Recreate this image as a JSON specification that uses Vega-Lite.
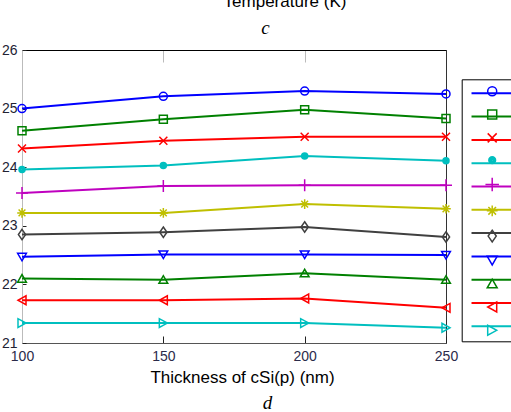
{
  "$schema": "https://vega.github.io/schema/vega-lite/v6.json",
  "width": 424,
  "height": 293,
  "autosize": {"type": "none"},
  "padding": {"left": 22, "top": 50, "right": 65, "bottom": 69},
  "background": "white",
  "title": {"text": "Temperature (K)", "font": "Liberation Sans", "fontSize": 17, "fontWeight": "normal", "color": "#000", "anchor": "middle", "dx": 51, "offset": 8},
  "config": {"view": {"stroke": "#333", "strokeWidth": 1}},
  "data": {"values": [
    {"s": "s01", "t": 100, "v": 25.0}, {"s": "s01", "t": 150, "v": 25.21}, {"s": "s01", "t": 200, "v": 25.30}, {"s": "s01", "t": 250, "v": 25.25},
    {"s": "s02", "t": 100, "v": 24.62}, {"s": "s02", "t": 150, "v": 24.82}, {"s": "s02", "t": 200, "v": 24.98}, {"s": "s02", "t": 250, "v": 24.83},
    {"s": "s03", "t": 100, "v": 24.32}, {"s": "s03", "t": 150, "v": 24.45}, {"s": "s03", "t": 200, "v": 24.52}, {"s": "s03", "t": 250, "v": 24.52},
    {"s": "s04", "t": 100, "v": 23.96}, {"s": "s04", "t": 150, "v": 24.03}, {"s": "s04", "t": 200, "v": 24.19}, {"s": "s04", "t": 250, "v": 24.11},
    {"s": "s05", "t": 100, "v": 23.56}, {"s": "s05", "t": 150, "v": 23.68}, {"s": "s05", "t": 200, "v": 23.69}, {"s": "s05", "t": 250, "v": 23.69},
    {"s": "s06", "t": 100, "v": 23.22}, {"s": "s06", "t": 150, "v": 23.22}, {"s": "s06", "t": 200, "v": 23.37}, {"s": "s06", "t": 250, "v": 23.29},
    {"s": "s07", "t": 100, "v": 22.85}, {"s": "s07", "t": 150, "v": 22.89}, {"s": "s07", "t": 200, "v": 22.98}, {"s": "s07", "t": 250, "v": 22.81},
    {"s": "s08", "t": 100, "v": 22.47}, {"s": "s08", "t": 150, "v": 22.51}, {"s": "s08", "t": 200, "v": 22.51}, {"s": "s08", "t": 250, "v": 22.50},
    {"s": "s09", "t": 100, "v": 22.10}, {"s": "s09", "t": 150, "v": 22.08}, {"s": "s09", "t": 200, "v": 22.19}, {"s": "s09", "t": 250, "v": 22.08},
    {"s": "s10", "t": 100, "v": 21.73}, {"s": "s10", "t": 150, "v": 21.73}, {"s": "s10", "t": 200, "v": 21.76}, {"s": "s10", "t": 250, "v": 21.60},
    {"s": "s11", "t": 100, "v": 21.34}, {"s": "s11", "t": 150, "v": 21.34}, {"s": "s11", "t": 200, "v": 21.34}, {"s": "s11", "t": 250, "v": 21.26}
  ]},
  "resolve": {"scale": {"x": "independent"}},
  "layer": [
    {
      "encoding": {
        "x": {"field": "t", "type": "quantitative", "scale": {"domain": [100, 250], "nice": false, "zero": false},
          "axis": {"values": [100, 150, 200, 250], "orient": "bottom", "grid": false, "domain": true, "domainColor": "#555", "ticks": true, "tickSize": -7, "tickColor": "#222",
            "labelFont": "Liberation Sans", "labelFontSize": 14, "labelColor": "#2b2b4a", "labelPadding": 13, "labelFlush": false,
            "title": "Thickness of cSi(p) (nm)", "titleFont": "Liberation Sans", "titleFontSize": 17, "titleFontWeight": "normal", "titleColor": "#000", "titlePadding": 6, "titleX": 220}},
        "y": {"field": "v", "type": "quantitative", "scale": {"domain": [21, 26], "nice": false, "zero": false},
          "axis": {"values": [21, 22, 23, 24, 25, 26], "grid": false, "domain": true, "domainColor": "#bbb", "ticks": true, "tickSize": -4, "tickColor": "#222",
            "labelFont": "Liberation Sans", "labelFontSize": 14, "labelColor": "#222233", "labelPadding": 9, "title": null}}
      },
      "layer": [
        {"mark": {"type": "line", "strokeWidth": 2},
          "encoding": {
            "color": {"field": "s", "type": "nominal",
              "scale": {"domain": ["s01","s02","s03","s04","s05","s06","s07","s08","s09","s10","s11","zz"],
                "range": ["#0000ff","#008000","#ff0000","#00bfbf","#bf00bf","#bfbf00","#404040","#0000ff","#008000","#ff0000","#00bfbf","#000000"]},
              "legend": {"orient": "none", "legendX": 439.7, "legendY": 29.3, "title": null, "values": ["s01","s02","s03","s04","s05","s06","s07","s08","s09","s10","s11"],
                "strokeColor": "#000", "padding": 8, "labelExpr": "' '", "labelFontSize": 12, "labelOffset": 10, "symbolSize": 81, "symbolStrokeWidth": 2, "rowPadding": 11.3,
                "symbolType": "M-0.93,0H9.1"}}
          }},
        {"mark": {"type": "point", "filled": false, "size": 64, "strokeWidth": 1.5, "opacity": 1},
          "encoding": {
            "stroke": {"field": "s", "type": "nominal",
              "scale": {"domain": ["s01","s02","s03","s04","s05","s06","s07","s08","s09","s10","s11"],
                "range": ["#0000ff","#008000","#ff0000","#00bfbf","#bf00bf","#bfbf00","#404040","#0000ff","#008000","#ff0000","#00bfbf"]},
              "legend": {"orient": "none", "legendX": 456.2, "legendY": 27.3, "title": null, "padding": 8, "labelExpr": "' '", "labelFontSize": 12, "labelOffset": 10, "symbolSize": 81, "symbolStrokeWidth": 1.5, "rowPadding": 7.3}},
            "shape": {"field": "s", "type": "nominal",
              "scale": {"domain": ["s01","s02","s03","s04","s05","s06","s07","s08","s09","s10","s11"],
                "range": [
                  "M-1,0A1,1,0,1,1,1,0A1,1,0,1,1,-1,0Z",
                  "M-1,-1H1V1H-1Z",
                  "M-1,-1L1,1M-1,1L1,-1",
                  "M-0.75,0A0.75,0.75,0,1,1,0.75,0A0.75,0.75,0,1,1,-0.75,0ZM-0.42,0A0.42,0.42,0,1,1,0.42,0A0.42,0.42,0,1,1,-0.42,0ZM-0.12,0A0.12,0.12,0,1,1,0.12,0A0.12,0.12,0,1,1,-0.12,0Z",
                  "M-1.5,0H1.5M0,-1.5V1.5",
                  "M-1.2,0H1.2M0,-1.2V1.2M-0.85,-0.85L0.85,0.85M-0.85,0.85L0.85,-0.85",
                  "M0,-1.3L0.9,0L0,1.3L-0.9,0Z",
                  "M-1.1,-0.9H1.1L0,1Z",
                  "M-1.1,0.9H1.1L0,-1Z",
                  "M1,-1.1V1.1L-1,0Z",
                  "M-1,-1.1V1.1L1,0Z"
                ]},
              "legend": {"orient": "none", "legendX": 456.2, "legendY": 27.3, "title": null, "padding": 8, "labelExpr": "' '", "labelFontSize": 12, "labelOffset": 10, "symbolSize": 81, "symbolStrokeWidth": 1.5, "rowPadding": 7.3}}
          }}
      ]
    },
    {
      "mark": {"type": "point", "opacity": 0},
      "encoding": {
        "x": {"field": "t", "type": "quantitative", "scale": {"domain": [100, 250], "nice": false, "zero": false},
          "axis": {"orient": "top", "values": [150, 200], "grid": false, "domain": true, "domainColor": "#000", "ticks": true, "tickSize": -12, "tickColor": "#bbb", "labels": false,
            "title": "c", "titleFont": "Liberation Serif", "titleFontStyle": "italic", "titleFontWeight": "normal", "titleFontSize": 19, "titleColor": "#000", "titlePadding": 12, "titleX": 243}}
      }
    },
    {
      "mark": {"type": "point", "opacity": 0},
      "encoding": {
        "x": {"field": "t", "type": "quantitative", "scale": {"domain": [100, 250], "nice": false, "zero": false},
          "axis": {"orient": "bottom", "values": [150], "grid": false, "domain": false, "ticks": false, "labels": false,
            "title": "d", "titleFont": "Liberation Serif", "titleFontStyle": "italic", "titleFontWeight": "normal", "titleFontSize": 19, "titleColor": "#000", "titlePadding": 50, "titleX": 245}}
      }
    }
  ]
}
